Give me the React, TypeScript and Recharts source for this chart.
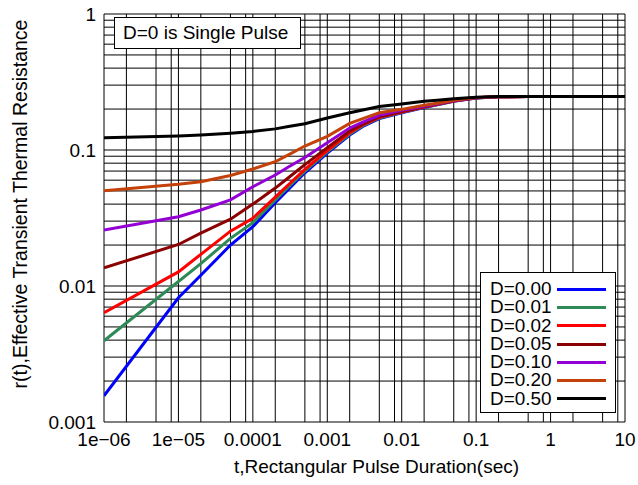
import { LineChart, Line, XAxis, YAxis, CartesianGrid, Legend } from "recharts";

// pulse duration (sec)
const T = [1e-6, 1e-5, 2e-5, 5e-5, 1e-4, 2e-4, 3e-4, 5e-4, 1e-3, 2e-3, 3e-3, 5e-3, 1e-2, 2e-2, 3e-2, 5e-2, 0.1, 0.2, 0.5, 1, 2, 5, 10];

// r(t) per duty cycle
const D000 = [0.00156, 0.0082, 0.012, 0.02, 0.0273, 0.041, 0.0512, 0.068, 0.095, 0.129, 0.149, 0.17, 0.188, 0.205, 0.215, 0.228, 0.241, 0.246, 0.247, 0.247, 0.247, 0.247, 0.247];
const D001 = [0.00396, 0.0108, 0.0146, 0.0224, 0.0292, 0.043, 0.0535, 0.07, 0.097, 0.131, 0.151, 0.172, 0.189, 0.206, 0.216, 0.229, 0.241, 0.246, 0.247, 0.247, 0.247, 0.247, 0.247];
const D002 = [0.00637, 0.0127, 0.0171, 0.0253, 0.0315, 0.045, 0.0555, 0.072, 0.099, 0.134, 0.153, 0.174, 0.19, 0.207, 0.217, 0.229, 0.242, 0.246, 0.247, 0.247, 0.247, 0.247, 0.247];
const D005 = [0.0136, 0.0202, 0.0245, 0.031, 0.04, 0.0525, 0.0625, 0.078, 0.104, 0.138, 0.155, 0.176, 0.192, 0.208, 0.218, 0.23, 0.242, 0.246, 0.247, 0.247, 0.247, 0.247, 0.247];
const D010 = [0.0258, 0.0323, 0.0362, 0.043, 0.0537, 0.0655, 0.075, 0.088, 0.113, 0.145, 0.16, 0.18, 0.196, 0.21, 0.219, 0.231, 0.242, 0.246, 0.247, 0.247, 0.247, 0.247, 0.247];
const D020 = [0.0502, 0.056, 0.0585, 0.065, 0.0725, 0.082, 0.092, 0.107, 0.126, 0.157, 0.17, 0.188, 0.199, 0.213, 0.221, 0.232, 0.243, 0.246, 0.247, 0.247, 0.247, 0.247, 0.247];
const D050 = [0.123, 0.127, 0.129, 0.133, 0.137, 0.143, 0.149, 0.156, 0.172, 0.188, 0.197, 0.209, 0.218, 0.228, 0.232, 0.238, 0.244, 0.247, 0.247, 0.247, 0.247, 0.247, 0.247];

const SERIES = [
  { key: "d000", name: "D=0.00", color: "#0000FF", values: D000 },
  { key: "d001", name: "D=0.01", color: "#2E8B57", values: D001 },
  { key: "d002", name: "D=0.02", color: "#FF0000", values: D002 },
  { key: "d005", name: "D=0.05", color: "#8B0000", values: D005 },
  { key: "d010", name: "D=0.10", color: "#9400D3", values: D010 },
  { key: "d020", name: "D=0.20", color: "#C4420A", values: D020 },
  { key: "d050", name: "D=0.50", color: "#000000", values: D050 }
];

const X_DECADES = [1e-6, 1e-5, 1e-4, 1e-3, 1e-2, 1e-1, 1, 10];
const X_LABELS = ["1e\u221206", "1e\u221205", "0.0001", "0.001", "0.01", "0.1", "1", "10"];
const X_STEPS = [1, 2, 5, 8];
const Y_DECADES = [0.001, 0.01, 0.1, 1];
const Y_LABELS = ["0.001", "0.01", "0.1", "1"];
const Y_STEPS = [1, 2, 3, 4, 5, 6, 7, 8, 9];

const FONT = "'Liberation Sans', Arial, Helvetica, sans-serif";

const gridValues = (decades: number[], steps: number[]) => {
  const out: number[] = [];
  decades.slice(0, -1).forEach((d) =>
    steps.forEach((s) => out.push(Number((d * s).toPrecision(6))))
  );
  out.push(decades[decades.length - 1]);
  return out;
};

const labelFor = (decades: number[], labels: string[]) => (v: number) => {
  const i = decades.findIndex((d) => Math.abs(Math.log10(v / d)) < 1e-6);
  return i >= 0 ? labels[i] : "";
};

const data = T.map((t, i) => {
  const row: Record<string, number> = { t };
  SERIES.forEach((s) => (row[s.key] = s.values[i]));
  return row;
});

const XTitle = ({ viewBox }: any) => (
  <text
    x={viewBox.x + viewBox.width / 2 + 12}
    y={viewBox.y + 51}
    textAnchor="middle"
    fontSize={19}
    fill="#000"
  >
    t,Rectangular Pulse Duration(sec)
  </text>
);

const YTitle = ({ viewBox }: any) => {
  const x = viewBox.x - 17;
  const y = viewBox.y + viewBox.height / 2 - 14;
  return (
    <text
      x={x}
      y={y}
      textAnchor="middle"
      fontSize={19.5}
      fill="#000"
      transform={`rotate(-90, ${x}, ${y})`}
    >
      r(t),Effective Transient Thermal Resistance
    </text>
  );
};

const DutyLegend = ({ payload }: any) => (
  <div
    style={{
      boxSizing: "border-box",
      height: 141,
      border: "1px solid #000",
      background: "#fff",
      padding: "7px 0 0 9px",
      fontSize: 18,
      lineHeight: "18.3px",
      color: "#000"
    }}
  >
    {(payload || []).map((p: any) => (
      <div key={p.value} style={{ display: "flex", alignItems: "center", height: 18.3 }}>
        <span style={{ width: 64, transform: "scaleX(1.05)", transformOrigin: "left center" }}>
          {p.value}
        </span>
        <span
          style={{
            display: "inline-block",
            width: 49,
            height: 3,
            marginLeft: 3,
            background: p.color
          }}
        />
      </div>
    ))}
  </div>
);

export default function App() {
  return (
    <div
      style={{
        position: "absolute",
        left: 0,
        top: 0,
        width: 638,
        height: 485,
        background: "#fff",
        fontFamily: FONT
      }}
    >
      <LineChart
        width={638}
        height={485}
        data={data}
        margin={{ top: 14, right: 13, bottom: 13, left: 44 }}
      >
        <CartesianGrid stroke="#000" strokeWidth={1} />
        <XAxis
          dataKey="t"
          type="number"
          scale="log"
          domain={[1e-6, 10]}
          allowDataOverflow
          ticks={gridValues(X_DECADES, X_STEPS)}
          interval={0}
          tickFormatter={labelFor(X_DECADES, X_LABELS)}
          tickLine={false}
          axisLine={false}
          tickMargin={5}
          height={50}
          tick={{ fill: "#000", fontSize: 19 }}
          label={XTitle}
        />
        <YAxis
          type="number"
          scale="log"
          domain={[0.001, 1]}
          allowDataOverflow
          ticks={gridValues(Y_DECADES, Y_STEPS)}
          interval={0}
          tickFormatter={labelFor(Y_DECADES, Y_LABELS)}
          tickLine={false}
          axisLine={false}
          width={60}
          tick={{ fill: "#000", fontSize: 19 }}
          label={YTitle}
        />
        {SERIES.map((s) => (
          <Line
            key={s.key}
            dataKey={s.key}
            name={s.name}
            stroke={s.color}
            strokeWidth={3}
            dot={false}
            activeDot={false}
            type="linear"
            isAnimationActive={false}
          />
        ))}
        <Legend
          layout="vertical"
          align="center"
          verticalAlign="middle"
          content={DutyLegend}
          wrapperStyle={{ left: 480, top: 272, width: 136 }}
        />
      </LineChart>
      <div
        style={{
          position: "absolute",
          left: 114,
          top: 17,
          width: 187,
          height: 32,
          boxSizing: "border-box",
          border: "1px solid #000",
          background: "#fff",
          fontSize: 19,
          display: "flex",
          alignItems: "center",
          paddingLeft: 8,
          color: "#000"
        }}
      >
        D=0 is Single Pulse
      </div>
    </div>
  );
}
